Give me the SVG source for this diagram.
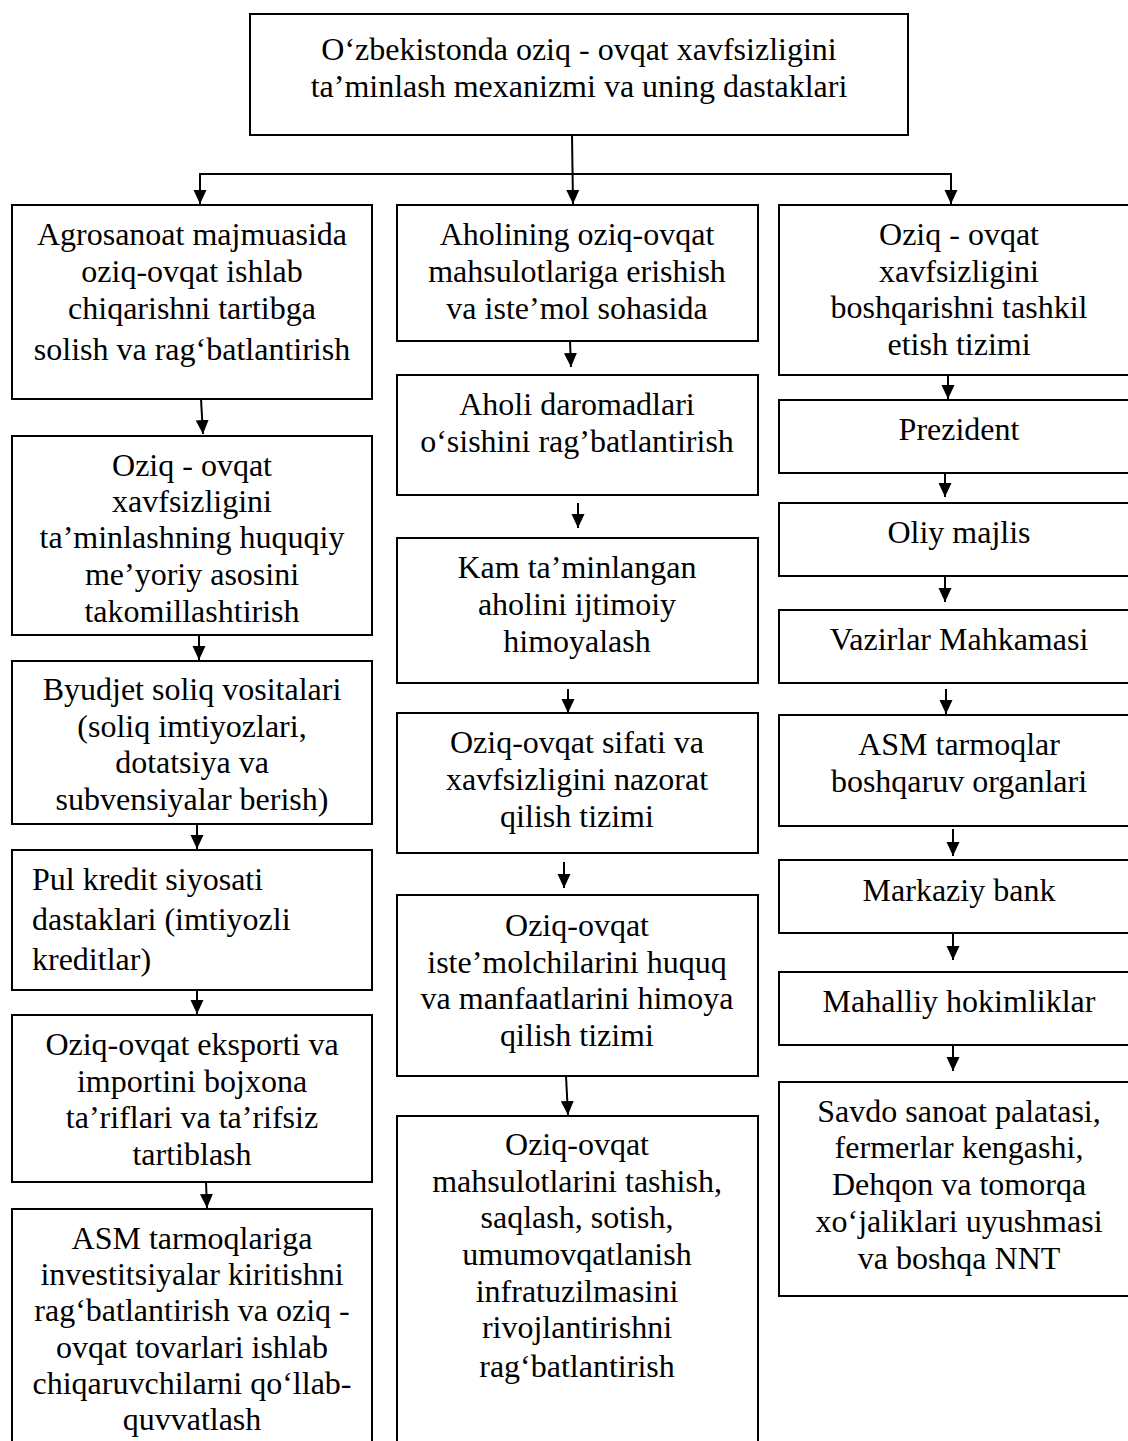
<svg xmlns="http://www.w3.org/2000/svg" width="1128" height="1441" viewBox="0 0 1128 1441">
<style>
.box{fill:#fff;stroke:#000;stroke-width:2}
.t{font-family:"Liberation Serif","Times New Roman",serif;font-size:32px;fill:#000;text-anchor:middle}
.tl{font-family:"Liberation Serif","Times New Roman",serif;font-size:32px;fill:#000;text-anchor:start}
.c{stroke:#000;stroke-width:2;fill:none;marker-end:url(#ah)}
.cn{stroke:#000;stroke-width:2;fill:none}
</style>
<defs>
<marker id="ah" markerUnits="userSpaceOnUse" markerWidth="14" markerHeight="14" refX="14" refY="6.5" orient="auto">
<path d="M0,0 L14,6.5 L0,13 z" fill="#000"/>
</marker>
</defs>
<rect width="1128" height="1441" fill="#fff"/>

<g id="connectors">
<line class="c" x1="572" y1="135" x2="573" y2="204"/>
<line class="cn" x1="200" y1="174" x2="951" y2="174"/>
<line class="c" x1="200" y1="173" x2="200" y2="204"/>
<line class="c" x1="951" y1="173" x2="951" y2="204"/>

<line class="c" x1="201" y1="399" x2="203" y2="434"/>
<line class="c" x1="199" y1="635" x2="199" y2="660"/>
<line class="c" x1="197" y1="824" x2="197" y2="849"/>
<line class="c" x1="197" y1="990" x2="197" y2="1014"/>
<line class="c" x1="206" y1="1182" x2="207" y2="1208"/>

<line class="c" x1="570" y1="341" x2="571" y2="367"/>
<line class="c" x1="578" y1="503" x2="578" y2="528"/>
<line class="c" x1="568" y1="689" x2="568" y2="713"/>
<line class="c" x1="564" y1="862" x2="564" y2="888"/>
<line class="c" x1="566" y1="1076" x2="568" y2="1115"/>

<line class="c" x1="948" y1="375" x2="948" y2="399"/>
<line class="c" x1="945" y1="473" x2="945" y2="497"/>
<line class="c" x1="945" y1="576" x2="945" y2="602"/>
<line class="c" x1="946" y1="689" x2="946" y2="714"/>
<line class="c" x1="953" y1="829" x2="953" y2="856"/>
<line class="c" x1="953" y1="933" x2="953" y2="960"/>
<line class="c" x1="953" y1="1046" x2="953" y2="1071"/>
</g>

<g id="top">
<rect class="box" x="250" y="14" width="658" height="121"/>
<text class="t" x="579" y="60">O‘zbekistonda oziq - ovqat xavfsizligini</text>
<text class="t" x="579" y="97">ta’minlash mexanizmi va uning dastaklari</text>
</g>

<g id="L1">
<rect class="box" x="12" y="205" width="360" height="194"/>
<text class="t" x="192" y="245">Agrosanoat majmuasida</text>
<text class="t" x="192" y="282">oziq-ovqat ishlab</text>
<text class="t" x="192" y="319">chiqarishni tartibga</text>
<text class="t" x="192" y="360">solish va rag‘batlantirish</text>
</g>
<g id="L2">
<rect class="box" x="12" y="436" width="360" height="199"/>
<text class="t" x="192" y="476">Oziq - ovqat</text>
<text class="t" x="192" y="512">xavfsizligini</text>
<text class="t" x="192" y="548">ta’minlashning huquqiy</text>
<text class="t" x="192" y="585">me’yoriy asosini</text>
<text class="t" x="192" y="622">takomillashtirish</text>
</g>
<g id="L3">
<rect class="box" x="12" y="661" width="360" height="163"/>
<text class="t" x="192" y="700">Byudjet soliq vositalari</text>
<text class="t" x="192" y="737">(soliq imtiyozlari,</text>
<text class="t" x="192" y="773">dotatsiya va</text>
<text class="t" x="192" y="810">subvensiyalar berish)</text>
</g>
<g id="L4">
<rect class="box" x="12" y="850" width="360" height="140"/>
<text class="tl" x="32" y="890">Pul kredit siyosati</text>
<text class="tl" x="32" y="930">dastaklari (imtiyozli</text>
<text class="tl" x="32" y="970">kreditlar)</text>
</g>
<g id="L5">
<rect class="box" x="12" y="1015" width="360" height="167"/>
<text class="t" x="192" y="1055">Oziq-ovqat eksporti va</text>
<text class="t" x="192" y="1092">importini bojxona</text>
<text class="t" x="192" y="1128">ta’riflari va ta’rifsiz</text>
<text class="t" x="192" y="1165">tartiblash</text>
</g>
<g id="L6">
<rect class="box" x="12" y="1209" width="360" height="260"/>
<text class="t" x="192" y="1249">ASM tarmoqlariga</text>
<text class="t" x="192" y="1285">investitsiyalar kiritishni</text>
<text class="t" x="192" y="1321">rag‘batlantirish va oziq -</text>
<text class="t" x="192" y="1358">ovqat tovarlari ishlab</text>
<text class="t" x="192" y="1394">chiqaruvchilarni qo‘llab-</text>
<text class="t" x="192" y="1430">quvvatlash</text>
</g>

<g id="M1">
<rect class="box" x="397" y="205" width="361" height="136"/>
<text class="t" x="577" y="245">Aholining oziq-ovqat</text>
<text class="t" x="577" y="282">mahsulotlariga erishish</text>
<text class="t" x="577" y="319">va iste’mol sohasida</text>
</g>
<g id="M2">
<rect class="box" x="397" y="375" width="361" height="120"/>
<text class="t" x="577" y="415">Aholi daromadlari</text>
<text class="t" x="577" y="452">o‘sishini rag’batlantirish</text>
</g>
<g id="M3">
<rect class="box" x="397" y="538" width="361" height="145"/>
<text class="t" x="577" y="578">Kam ta’minlangan</text>
<text class="t" x="577" y="615">aholini ijtimoiy</text>
<text class="t" x="577" y="652">himoyalash</text>
</g>
<g id="M4">
<rect class="box" x="397" y="713" width="361" height="140"/>
<text class="t" x="577" y="753">Oziq-ovqat sifati va</text>
<text class="t" x="577" y="790">xavfsizligini nazorat</text>
<text class="t" x="577" y="827">qilish tizimi</text>
</g>
<g id="M5">
<rect class="box" x="397" y="895" width="361" height="181"/>
<text class="t" x="577" y="936">Oziq-ovqat</text>
<text class="t" x="577" y="973">iste’molchilarini huquq</text>
<text class="t" x="577" y="1009">va manfaatlarini himoya</text>
<text class="t" x="577" y="1046">qilish tizimi</text>
</g>
<g id="M6">
<rect class="box" x="397" y="1116" width="361" height="350"/>
<text class="t" x="577" y="1155">Oziq-ovqat</text>
<text class="t" x="577" y="1192">mahsulotlarini tashish,</text>
<text class="t" x="577" y="1228">saqlash, sotish,</text>
<text class="t" x="577" y="1265">umumovqatlanish</text>
<text class="t" x="577" y="1302">infratuzilmasini</text>
<text class="t" x="577" y="1338">rivojlantirishni</text>
<text class="t" x="577" y="1377">rag‘batlantirish</text>
</g>

<g id="R1">
<rect class="box" x="779" y="205" width="361" height="170"/>
<text class="t" x="959" y="245">Oziq - ovqat</text>
<text class="t" x="959" y="282">xavfsizligini</text>
<text class="t" x="959" y="318">boshqarishni tashkil</text>
<text class="t" x="959" y="355">etish tizimi</text>
</g>
<g id="R2">
<rect class="box" x="779" y="400" width="361" height="73"/>
<text class="t" x="959" y="440">Prezident</text>
</g>
<g id="R3">
<rect class="box" x="779" y="503" width="361" height="73"/>
<text class="t" x="959" y="543">Oliy majlis</text>
</g>
<g id="R4">
<rect class="box" x="779" y="610" width="361" height="73"/>
<text class="t" x="959" y="650">Vazirlar Mahkamasi</text>
</g>
<g id="R5">
<rect class="box" x="779" y="715" width="361" height="111"/>
<text class="t" x="959" y="755">ASM tarmoqlar</text>
<text class="t" x="959" y="792">boshqaruv organlari</text>
</g>
<g id="R6">
<rect class="box" x="779" y="860" width="361" height="73"/>
<text class="t" x="959" y="901">Markaziy bank</text>
</g>
<g id="R7">
<rect class="box" x="779" y="972" width="361" height="73"/>
<text class="t" x="959" y="1012">Mahalliy hokimliklar</text>
</g>
<g id="R8">
<rect class="box" x="779" y="1082" width="361" height="214"/>
<text class="t" x="959" y="1122">Savdo sanoat palatasi,</text>
<text class="t" x="959" y="1158">fermerlar kengashi,</text>
<text class="t" x="959" y="1195">Dehqon va tomorqa</text>
<text class="t" x="959" y="1232">xo‘jaliklari uyushmasi</text>
<text class="t" x="959" y="1269">va boshqa NNT</text>
</g>
</svg>
